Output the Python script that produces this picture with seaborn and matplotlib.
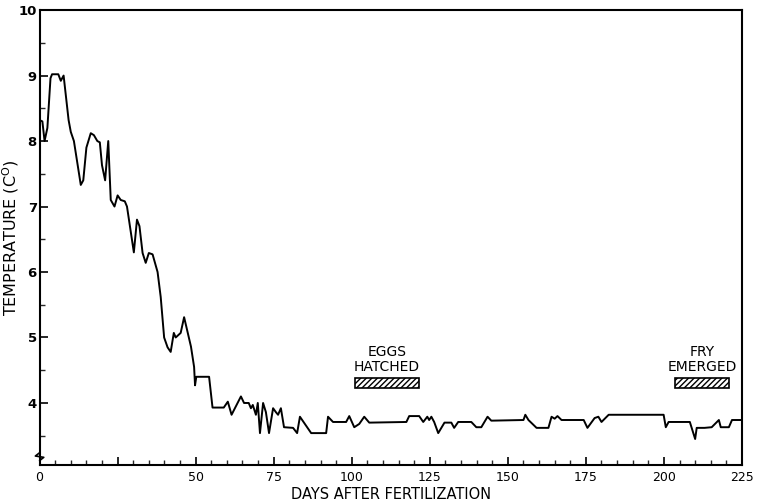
import numpy as np
import seaborn as sns
import matplotlib.pyplot as plt
from matplotlib.ticker import MultipleLocator, FixedLocator, FixedFormatter

# ==========================
# Data
# ==========================
days = [0, 0.9, 1.6, 2.5, 3.5, 4.0, 6.0, 6.8, 7.7, 9.3, 10.0, 11.0, 13.2, 14.0,
        15.0, 16.4, 17.4, 18.5, 19.3, 20.0, 21.0, 22.0, 22.8, 24.0, 25.0, 26.0,
        27.3, 28.0, 30.2, 31.2, 32.0, 33.0, 34.0, 35.0, 36.2, 37.8, 38.8, 39.9,
        41.0, 42.0, 43.0, 43.6, 45.2, 46.3, 48.5, 49.5, 49.8, 50.2, 54.3, 55.4,
        59.0, 60.3, 61.5, 64.5, 65.5, 67.0, 67.7, 68.3, 69.3, 69.9, 70.6, 71.6,
        72.5, 73.5, 74.8, 75.7, 76.4, 77.3, 78.3, 81.2, 82.5, 83.4, 87.0, 91.8,
        92.4, 94.0, 98.2, 99.2, 100.8, 102.4, 104.0, 105.6, 117.5, 118.4, 121.6,
        122.9, 124.2, 124.8, 125.5, 126.4, 127.7, 129.7, 131.9, 132.8, 134.1,
        138.3, 139.9, 141.5, 143.5, 144.7, 155.0, 155.6, 156.6, 159.2, 163.0,
        164.0, 165.0, 165.9, 167.2, 174.3, 175.5, 177.8, 179.0, 180.0, 182.3,
        199.9, 200.6, 201.5, 208.3, 210.0, 210.5, 213.0, 215.3, 217.6, 218.2,
        220.8, 221.8, 225.0]
temp = [8.32, 8.3, 8.0, 8.2, 8.96, 9.02, 9.02, 8.92, 9.0, 8.32, 8.14, 8.0, 7.33, 7.4,
        7.9, 8.12, 8.09, 8.0, 7.98, 7.63, 7.4, 8.0, 7.1, 7.0, 7.17, 7.1,
        7.08, 7.0, 6.3, 6.8, 6.7, 6.29, 6.14, 6.29, 6.27, 6.0, 5.62, 5.0,
        4.85, 4.78, 5.07, 5.0, 5.07, 5.31, 4.86, 4.55, 4.27, 4.4, 4.4, 3.93,
        3.93, 4.02, 3.82, 4.1, 4.0, 4.0, 3.92, 3.97, 3.82, 4.0, 3.54, 4.0,
        3.86, 3.54, 3.92, 3.86, 3.82, 3.92, 3.63, 3.62, 3.54, 3.79, 3.54, 3.54,
        3.79, 3.71, 3.71, 3.8, 3.63, 3.68, 3.79, 3.7, 3.71, 3.8, 3.8,
        3.71, 3.79, 3.74, 3.79, 3.71, 3.54, 3.7, 3.7, 3.62, 3.71,
        3.71, 3.63, 3.63, 3.79, 3.73, 3.74, 3.82, 3.74, 3.62, 3.62,
        3.79, 3.76, 3.8, 3.74, 3.74, 3.62, 3.77, 3.79, 3.71, 3.82,
        3.82, 3.63, 3.71, 3.71, 3.45, 3.62, 3.62, 3.63, 3.74, 3.63,
        3.63, 3.74, 3.74]

# event bars (hatched) and their labels
event_labels = ["EGGS\nHATCHED", "FRY\nEMERGED"]
event_start = [101.0, 203.5]
event_end = [121.5, 221.0]

x_ticks = [0, 25, 50, 75, 100, 125, 150, 175, 200, 225]
x_ticklabels = ["0", "", "50", "75", "100", "125", "150", "175", "200", "225"]
y_ticks = [4, 5, 6, 7, 8, 9, 10]

# ==========================
# Plot
# ==========================
sns.set_theme(style="ticks")
plt.rcParams['font.family'] = ['DejaVu Sans']
plt.rcParams['text.color'] = 'black'
plt.rcParams['axes.labelcolor'] = 'black'

fig = plt.figure(figsize=(7.61, 5.04), dpi=100)
ax = fig.add_axes([0.052, 0.077, 0.923, 0.903])

sns.lineplot(x=days, y=temp, ax=ax, color='black', linewidth=1.4,
             estimator=None, sort=False)

# hatched bars for events
widths = [e - s for s, e in zip(event_start, event_end)]
ax.barh(y=[4.305, 4.305], width=widths, left=event_start, height=0.15,
        color='white', edgecolor='black', hatch='//////', linewidth=1.2)
for lab, s, e in zip(event_labels, event_start, event_end):
    ax.text((s + e) / 2, 4.44, lab, ha='center', va='bottom', fontsize=10,
            linespacing=1.15)

ax.set_xlim(0, 225)
ax.set_ylim(3.05, 10)
ax.xaxis.set_major_locator(FixedLocator(x_ticks))
ax.xaxis.set_major_formatter(FixedFormatter(x_ticklabels))
ax.xaxis.set_minor_locator(MultipleLocator(5))
ax.yaxis.set_major_locator(FixedLocator(y_ticks))
ax.yaxis.set_minor_locator(MultipleLocator(0.5))

ax.tick_params(axis='both', which='major', direction='in', length=6, width=1.2,
               colors='black')
ax.tick_params(axis='both', which='minor', direction='in', length=3.5, width=1.0)
ax.tick_params(axis='x', labelsize=9, pad=4)
ax.tick_params(axis='y', labelsize=9.5, pad=2)
for lab in ax.get_yticklabels():
    lab.set_fontweight('bold')

for sp in ax.spines.values():
    sp.set_linewidth(1.5)
    sp.set_color('black')

ax.set_xlabel('DAYS AFTER FERTILIZATION', fontsize=10.5, labelpad=2)
ax.set_ylabel(r'TEMPERATURE (C$^{\mathrm{O}}$)', fontsize=11.5)
ax.yaxis.set_label_coords(-0.026, 0.5)

# axis break mark on the y-axis
trans = ax.get_yaxis_transform()
ax.plot([0, -0.006, 0.006, 0], [3.24, 3.19, 3.17, 3.12], transform=trans,
        color='black', linewidth=1.2, clip_on=False)

fig.savefig('out.png', dpi=100)
